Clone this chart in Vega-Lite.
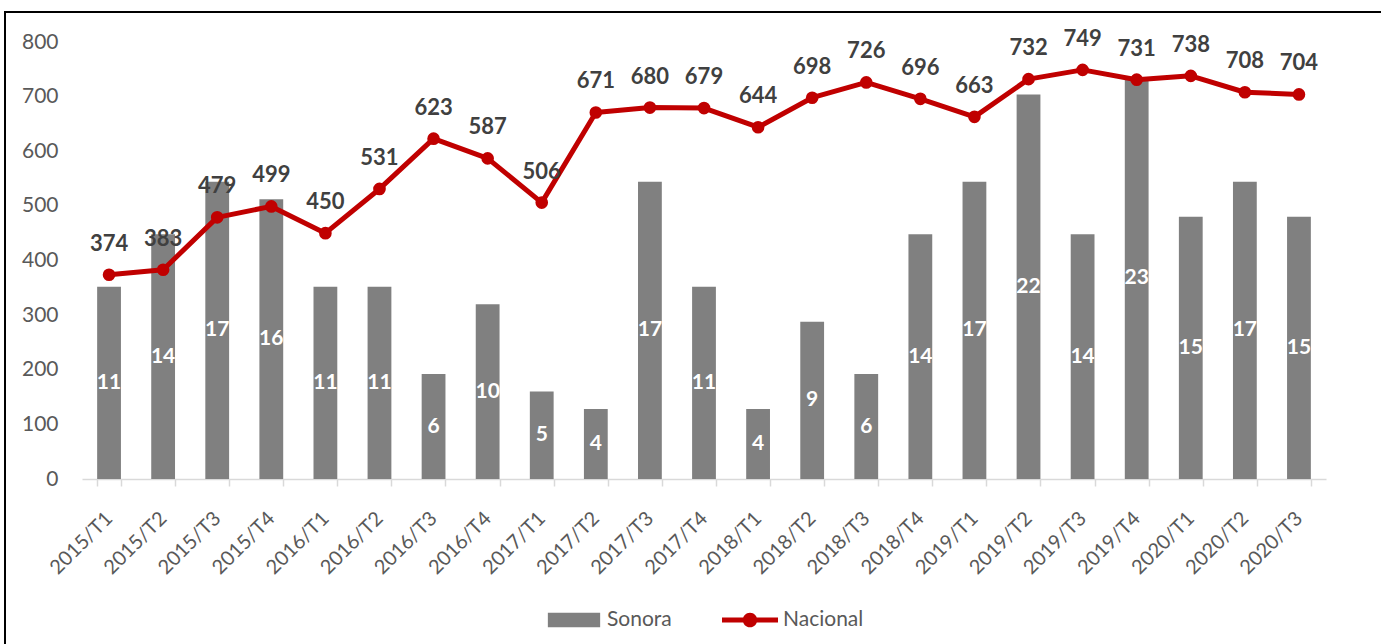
{
  "$schema": "https://vega.github.io/schema/vega-lite/v6.json",
  "width": 1400,
  "height": 660,
  "autosize": "none",
  "padding": {"left": 5, "top": 12, "right": 0, "bottom": 0},
  "background": "white",
  "config": {
    "view": {"stroke": "#000000", "strokeWidth": 2},
    "font": "Lato",
    "axis": {"labelFont": "Lato"},
    "legend": {"labelFont": "Lato"}
  },
  "data": {
    "values": [
      {"periodo": "2015/T1", "Sonora": 11, "Nacional": 374},
      {"periodo": "2015/T2", "Sonora": 14, "Nacional": 383},
      {"periodo": "2015/T3", "Sonora": 17, "Nacional": 479},
      {"periodo": "2015/T4", "Sonora": 16, "Nacional": 499},
      {"periodo": "2016/T1", "Sonora": 11, "Nacional": 450},
      {"periodo": "2016/T2", "Sonora": 11, "Nacional": 531},
      {"periodo": "2016/T3", "Sonora": 6, "Nacional": 623},
      {"periodo": "2016/T4", "Sonora": 10, "Nacional": 587},
      {"periodo": "2017/T1", "Sonora": 5, "Nacional": 506},
      {"periodo": "2017/T2", "Sonora": 4, "Nacional": 671},
      {"periodo": "2017/T3", "Sonora": 17, "Nacional": 680},
      {"periodo": "2017/T4", "Sonora": 11, "Nacional": 679},
      {"periodo": "2018/T1", "Sonora": 4, "Nacional": 644},
      {"periodo": "2018/T2", "Sonora": 9, "Nacional": 698},
      {"periodo": "2018/T3", "Sonora": 6, "Nacional": 726},
      {"periodo": "2018/T4", "Sonora": 14, "Nacional": 696},
      {"periodo": "2019/T1", "Sonora": 17, "Nacional": 663},
      {"periodo": "2019/T2", "Sonora": 22, "Nacional": 732},
      {"periodo": "2019/T3", "Sonora": 14, "Nacional": 749},
      {"periodo": "2019/T4", "Sonora": 23, "Nacional": 731},
      {"periodo": "2020/T1", "Sonora": 15, "Nacional": 738},
      {"periodo": "2020/T2", "Sonora": 17, "Nacional": 708},
      {"periodo": "2020/T3", "Sonora": 15, "Nacional": 704}
    ]
  },
  "encoding": {
    "x": {
      "field": "periodo",
      "type": "ordinal",
      "sort": null,
      "scale": {"range": [77, 1321], "paddingInner": 0.56, "paddingOuter": 0.28},
      "axis": {
        "orient": "bottom",
        "offset": -193,
        "title": null,
        "grid": false,
        "tickBand": "extent",
        "labelAngle": -45,
        "labelAlign": "right",
        "labelBaseline": "middle",
        "labelFontSize": 20,
        "labelColor": "#595959",
        "labelPadding": 29,
        "domainColor": "#d9d9d9",
        "domainWidth": 1.5,
        "tickColor": "#d9d9d9",
        "tickWidth": 1.5,
        "tickSize": 7
      }
    }
  },
  "layer": [
    {
      "mark": {"type": "bar", "color": "#808080"},
      "encoding": {
        "y": {
          "field": "Sonora",
          "type": "quantitative",
          "scale": {"domain": [0, 25], "range": [467, 30], "nice": false},
          "axis": null
        },
        "color": {
          "datum": "Sonora",
          "type": "nominal",
          "scale": {"domain": ["Sonora", "Nacional"], "range": ["#808080", "#C00000"]},
          "legend": {
            "orient": "none",
            "legendX": 541,
            "legendY": 580,
            "direction": "horizontal",
            "title": null,
            "padding": 0,
            "labelFontSize": 21,
            "labelColor": "#595959",
            "labelOffset": 5,
            "columnPadding": 50,
            "symbolSize": 3136,
            "encode": {
              "symbols": {
                "update": {
                  "shape": {"signal": "datum.value === 'Sonora' ? 'M-0.934,-0.26H0.934V0.26H-0.934Z' : 'M-1,-0.09H-0.24V0.09H-1Z M0.24,-0.09H1V0.09H0.24Z M-0.26,0A0.26,0.26 0 1,1 0.26,0A0.26,0.26 0 1,1 -0.26,0Z'"},
                  "fill": {"scale": "color", "field": "value"},
                  "stroke": {"value": "transparent"},
                  "strokeWidth": {"value": 0},
                  "size": {"value": 3136},
                  "opacity": {"value": 1}
                }
              }
            }
          }
        }
      }
    },
    {
      "mark": {"type": "text", "color": "#ffffff", "fontWeight": "bold", "fontSize": 21, "baseline": "middle"},
      "encoding": {
        "y": {
          "field": "Sonora",
          "type": "quantitative",
          "scale": {"domain": [0, 50], "range": [467, 30], "nice": false},
          "axis": null
        },
        "text": {"field": "Sonora", "type": "quantitative"}
      }
    },
    {
      "encoding": {
        "y": {
          "field": "Nacional",
          "type": "quantitative",
          "scale": {"domain": [0, 800], "range": [467, 30], "nice": false},
          "axis": {
            "orient": "left",
            "offset": -77,
            "title": null,
            "values": [0, 100, 200, 300, 400, 500, 600, 700, 800],
            "domain": false,
            "ticks": false,
            "tickSize": 0,
            "labelPadding": 24,
            "labelFontSize": 21,
            "labelColor": "#595959",
            "gridColor": "#d9d9d9",
            "gridWidth": 1.3
          }
        }
      },
      "layer": [
        {
          "mark": {"type": "line", "color": "#C00000", "strokeWidth": 5, "strokeJoin": "round", "strokeCap": "round"},
          "encoding": {
            "color": {"datum": "Nacional", "type": "nominal"}
          }
        },
        {
          "mark": {"type": "point", "filled": true, "color": "#C00000", "size": 160, "opacity": 1, "shape": "circle"},
          "encoding": {}
        },
        {
          "mark": {"type": "text", "color": "#404040", "fontWeight": "bold", "fontSize": 22, "baseline": "middle", "dy": -31},
          "encoding": {
            "text": {"field": "Nacional", "type": "quantitative"}
          }
        }
      ]
    }
  ],
  "resolve": {"scale": {"y": "independent"}}
}
